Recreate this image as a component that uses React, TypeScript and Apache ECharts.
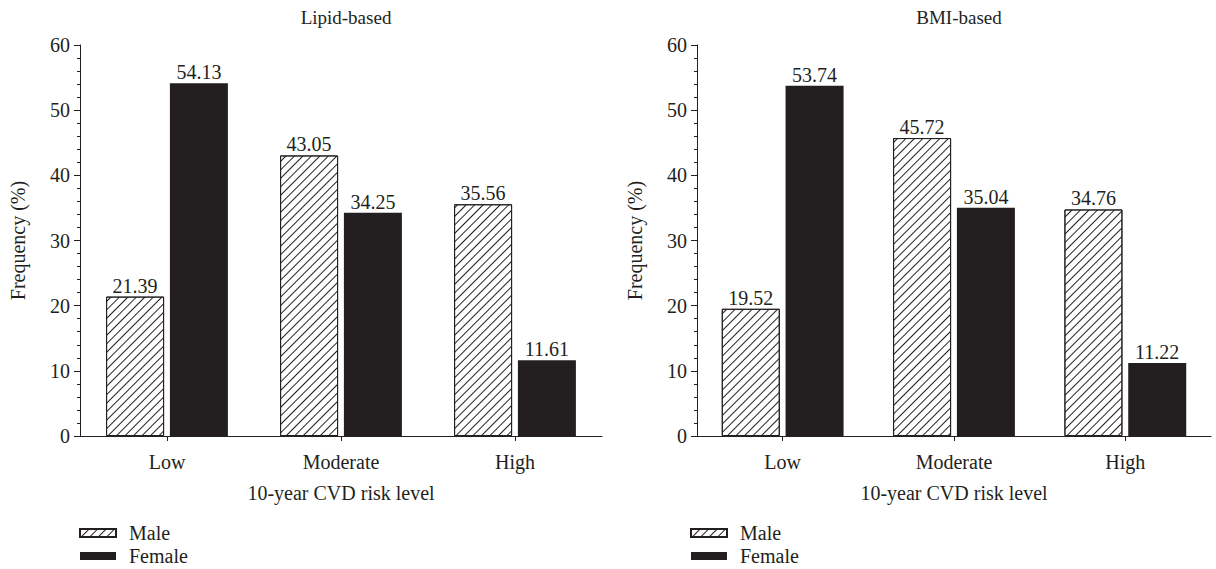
import React, { useEffect, useRef } from "react";
import * as echarts from "echarts";

const categories = ["Low", "Moderate", "High"];
const lipidMale = [21.39, 43.05, 35.56];
const lipidFemale = [54.13, 34.25, 11.61];
const bmiMale = [19.52, 45.72, 34.76];
const bmiFemale = [53.74, 35.04, 11.22];
const titles = ["Lipid-based", "BMI-based"];
const yTicks = { min: 0, max: 60, interval: 10 };

const FONT = "'Liberation Serif', 'Times New Roman', serif";
const INK = "#231f20";

export default function App() {
  const ref = useRef<HTMLDivElement>(null);
  useEffect(() => {
    document.body.style.margin = "0";
    if (!ref.current) return;
    const chart = echarts.init(ref.current, undefined, { renderer: "svg" });
    const grids = [
      { left: 80, right: 614, top: 45, bottom: 133 },
      { left: 697, right: 5, top: 45, bottom: 133 },
    ];
    const textStyle = { fontFamily: FONT, color: INK, fontSize: 20 };
    const xAxes = grids.map((_, i) => ({
      type: "category",
      gridIndex: i,
      data: categories,
      name: "10-year CVD risk level",
      nameLocation: "middle",
      nameGap: 47,
      nameTextStyle: { ...textStyle },
      axisLine: { lineStyle: { color: INK, width: 1 } },
      axisTick: { show: true, alignWithLabel: true, length: 5, lineStyle: { color: INK } },
      axisLabel: { ...textStyle, margin: 16 },
      splitLine: { show: false },
    }));
    const yAxes = grids.map((_, i) => ({
      type: "value",
      gridIndex: i,
      min: yTicks.min,
      max: yTicks.max,
      interval: yTicks.interval,
      name: "Frequency (%)",
      nameLocation: "middle",
      nameGap: 52,
      nameTextStyle: { ...textStyle },
      axisLine: { show: true, lineStyle: { color: INK, width: 1 } },
      axisTick: { show: true, length: 6, lineStyle: { color: INK } },
      minorTick: { show: true, splitNumber: 5, length: 3, lineStyle: { color: INK } },
      axisLabel: { ...textStyle, margin: 10 },
      splitLine: { show: false },
      minorSplitLine: { show: false },
    }));
    const hatch = {
      symbol: "rect",
      symbolSize: 1,
      dashArrayX: [1, 0],
      dashArrayY: [1, 5],
      rotation: -Math.PI / 4,
      color: INK,
      backgroundColor: "#ffffff",
    };
    const label = {
      show: true,
      position: "top",
      distance: 1,
      ...textStyle,
      formatter: (p: any) => p.value.toFixed(2),
    };
    const mk = (name: string, data: number[], i: number, male: boolean) => ({
      type: "bar",
      name,
      xAxisIndex: i,
      yAxisIndex: i,
      data,
      barWidth: 58,
      barGap: "10%",
      label,
      itemStyle: male
        ? { color: "#ffffff", borderColor: INK, borderWidth: 1, decal: hatch }
        : { color: INK, borderColor: INK, borderWidth: 0 },
    });
    chart.setOption({
      animation: false,
      textStyle: { fontFamily: FONT },
      title: titles.map((t, i) => ({
        text: t,
        left: i === 0 ? 341 : 954,
        top: 3,
        textAlign: "center",
        textStyle: { ...textStyle, fontSize: 19, fontWeight: "normal" },
      })),
      legend: [79, 690].map((x) => ({
        left: x,
        top: 523,
        orient: "vertical",
        itemWidth: 36,
        itemHeight: 8,
        itemGap: 3,
        padding: 0,
        icon: "rect",
        textStyle: { ...textStyle, padding: [0, 0, 0, 8] },
        data: ["Male", "Female"],
        selectedMode: false,
      })),
      grid: grids,
      xAxis: xAxes,
      yAxis: yAxes,
      series: [
        mk("Male", lipidMale, 0, true),
        mk("Female", lipidFemale, 0, false),
        mk("Male", bmiMale, 1, true),
        mk("Female", bmiFemale, 1, false),
      ],
    });
    return () => chart.dispose();
  }, []);
  return <div ref={ref} style={{ width: 1216, height: 569 }} />;
}
